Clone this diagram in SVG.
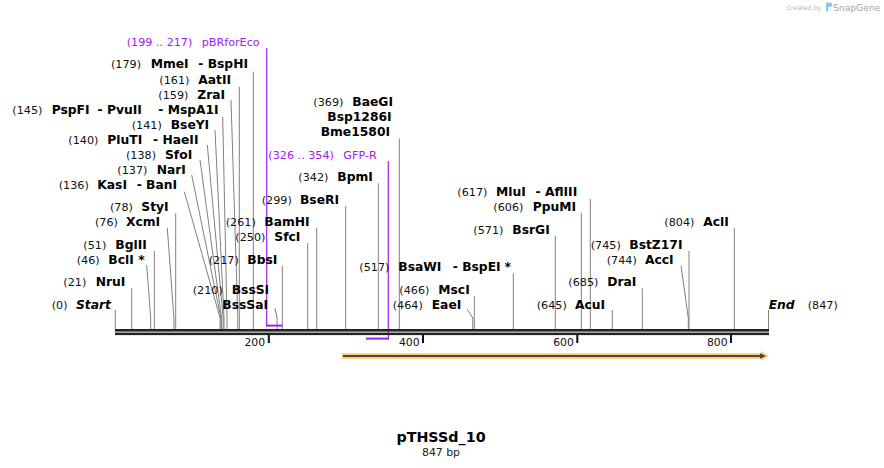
<svg xmlns="http://www.w3.org/2000/svg" width="884" height="468" viewBox="0 0 884 468">
<style>
text{font-family:"DejaVu Sans","Verdana",sans-serif;}
.n{font-size:11.2px;fill:#111;}
.b{font-size:12.3px;font-weight:bold;fill:#000;}
.bi{font-size:12.3px;font-weight:bold;font-style:italic;fill:#000;}
.p{font-size:11.2px;fill:#a020f0;}
.t{font-size:10.8px;fill:#111;text-anchor:end;}
.cut{stroke:#808080;stroke-width:1;fill:none;}
.pv{stroke:#a020f0;stroke-width:1.2;fill:none;}
.ph{stroke:#a020f0;stroke-width:2;fill:none;}
</style>
<rect width="884" height="468" fill="#fff"/>

<g id="watermark">
<text x="786.7" y="10" style="font-size:6.3px;fill:#b4b4b4">Created by</text>
<path d="M826,2.5 h4 a2.3,2.3 0 0 1 0,4.6 h-1.6 v4.2 h-2.4 z" fill="#8ec5ee"/>
<text x="833" y="10.5" style="font-size:9.2px;fill:#a6a6a6">SnapGene</text>
</g>

<g id="connectors">
<!-- vertical cut lines -->
<line class="cut" x1="115.3" y1="310" x2="115.3" y2="329"/>
<line class="cut" x1="131.7" y1="288.3" x2="131.7" y2="329"/>
<line class="cut" x1="154.3" y1="251" x2="154.3" y2="329"/>
<line class="cut" x1="175.7" y1="213.3" x2="175.7" y2="329"/>
<line class="cut" x1="239.3" y1="86.7" x2="239.3" y2="329"/>
<line class="cut" x1="253.3" y1="71.7" x2="253.3" y2="329"/>
<line class="cut" x1="282.3" y1="266" x2="282.3" y2="329"/>
<line class="cut" x1="307.7" y1="243.3" x2="307.7" y2="329"/>
<line class="cut" x1="316.7" y1="227.7" x2="316.7" y2="329"/>
<line class="cut" x1="345.7" y1="206" x2="345.7" y2="329"/>
<line class="cut" x1="378.3" y1="183.3" x2="378.3" y2="329"/>
<line class="cut" x1="399.3" y1="138.3" x2="399.3" y2="329"/>
<line class="cut" x1="474.3" y1="296" x2="474.3" y2="329"/>
<line class="cut" x1="513.3" y1="273.3" x2="513.3" y2="329"/>
<line class="cut" x1="555.3" y1="235.7" x2="555.3" y2="329"/>
<line class="cut" x1="581.3" y1="212.7" x2="581.3" y2="329"/>
<line class="cut" x1="590.3" y1="199" x2="590.3" y2="329"/>
<line class="cut" x1="612.3" y1="310" x2="612.3" y2="329"/>
<line class="cut" x1="642.3" y1="288.3" x2="642.3" y2="329"/>
<line class="cut" x1="689" y1="250.7" x2="689" y2="329"/>
<line class="cut" x1="734.3" y1="228.3" x2="734.3" y2="329"/>
<line class="cut" x1="768.5" y1="310" x2="768.5" y2="329"/>
<!-- slanted cut lines -->
<polyline class="cut" points="231,100 237.8,318 237.8,329"/>
<polyline class="cut" points="222.7,116.7 227,318 227,329"/>
<polyline class="cut" points="215,130 224,318 224,329"/>
<polyline class="cut" points="207.3,145 223.2,318 223.2,329"/>
<polyline class="cut" points="200,160 221.6,318 221.6,329"/>
<polyline class="cut" points="191.7,175 220.9,318 220.9,329"/>
<polyline class="cut" points="184.3,191.7 220.1,318 220.1,329"/>
<polyline class="cut" points="167.3,228 173.9,318 173.9,329"/>
<polyline class="cut" points="146.7,265 150.7,318 150.7,329"/>
<polyline class="cut" points="275,308.3 277.1,318 277.1,329"/>
<polyline class="cut" points="467.3,309.3 472.8,318 472.8,329"/>
<polyline class="cut" points="681,265.7 688.3,318 688.3,329"/>
<!-- primers -->
<line class="pv" x1="266.7" y1="48.3" x2="266.7" y2="326.5"/>
<line class="ph" x1="266.1" y1="325.6" x2="282.3" y2="325.6"/>
<line class="pv" x1="388.3" y1="161" x2="388.3" y2="339.5"/>
<line class="ph" x1="366" y1="338.6" x2="388.9" y2="338.6"/>
</g>

<g id="sequence">
<rect x="115" y="329" width="654" height="2.6" fill="#222"/>
<rect x="115" y="332.6" width="654" height="2.5" fill="#222"/>
<rect x="267.8" y="335" width="2" height="8" fill="#111"/>
<rect x="422" y="335" width="2" height="8" fill="#111"/>
<rect x="576.3" y="335" width="2" height="8" fill="#111"/>
<rect x="730" y="335" width="2" height="8" fill="#111"/>
<text class="t" x="265" y="345.7">200</text>
<text class="t" x="419.5" y="345.7">400</text>
<text class="t" x="573.8" y="345.7">600</text>
<text class="t" x="727.5" y="345.7">800</text>
</g>

<g id="feature">
<polygon points="342,353.3 761,353.3 761,351 768.5,356 761,361 761,358.7 342,358.7" fill="#f9cb72"/>
<rect x="343" y="355" width="419" height="2" fill="#52473d"/>
<polygon points="760,353.2 766,356 760,358.8" fill="#52473d"/>
</g>

<g id="primer-pBRforEco"><text class="p" x="126.7" y="46">(199 .. 217)</text><text class="p" x="201.7" y="46">pBRforEco</text></g>
<g id="primer-GFP-R"><text class="p" x="268.3" y="158.5">(326 .. 354)</text><text class="p" x="343.3" y="158.5">GFP-R</text></g>

<g id="e179"><text class="n" x="111" y="68.3">(179)</text><text class="b" x="150.7" y="68.3">MmeI</text><text class="b" x="198.3" y="68.3">- BspHI</text></g>
<g id="e161"><text class="n" x="159.3" y="84.3">(161)</text><text class="b" x="198.3" y="84.3">AatII</text></g>
<g id="e159"><text class="n" x="158.3" y="98.5">(159)</text><text class="b" x="197.3" y="98.5">ZraI</text></g>
<g id="e145"><text class="n" x="12.3" y="114">(145)</text><text class="b" x="51.7" y="114">PspFI</text><text class="b" x="97.5" y="114">- PvuII</text><text class="b" x="158.3" y="114">- MspA1I</text></g>
<g id="e141"><text class="n" x="131.7" y="129">(141)</text><text class="b" x="170.7" y="129">BseYI</text></g>
<g id="e140"><text class="n" x="68.3" y="143.5">(140)</text><text class="b" x="107.3" y="143.5">PluTI</text><text class="b" x="153" y="143.5">- HaeII</text></g>
<g id="e138"><text class="n" x="126" y="158.7">(138)</text><text class="b" x="165" y="158.7">SfoI</text></g>
<g id="e137"><text class="n" x="117.3" y="173.5">(137)</text><text class="b" x="156.7" y="173.5">NarI</text></g>
<g id="e136"><text class="n" x="58.7" y="189">(136)</text><text class="b" x="97.3" y="189">KasI</text><text class="b" x="136.7" y="189">- BanI</text></g>
<g id="e78"><text class="n" x="110" y="210.7">(78)</text><text class="b" x="141.3" y="210.7">StyI</text></g>
<g id="e76"><text class="n" x="95" y="226">(76)</text><text class="b" x="126" y="226">XcmI</text></g>
<g id="e51"><text class="n" x="83.3" y="249">(51)</text><text class="b" x="115.3" y="249">BglII</text></g>
<g id="e46"><text class="n" x="76.7" y="264">(46)</text><text class="b" x="108.3" y="264">BclI</text><text class="b" x="138.3" y="264">*</text></g>
<g id="e21"><text class="n" x="63.3" y="286">(21)</text><text class="b" x="95.7" y="286">NruI</text></g>
<g id="start"><text class="n" x="51.7" y="308.7">(0)</text><text class="bi" x="76" y="308.7">Start</text></g>
<g id="e261"><text class="n" x="225.7" y="226">(261)</text><text class="b" x="264.3" y="226">BamHI</text></g>
<g id="e250"><text class="n" x="235.3" y="241">(250)</text><text class="b" x="274.3" y="241">SfcI</text></g>
<g id="e217"><text class="n" x="208.7" y="264">(217)</text><text class="b" x="247.3" y="264">BbsI</text></g>
<g id="e210"><text class="n" x="192.7" y="294">(210)</text><text class="b" x="231.7" y="294">BssSI</text><text class="b" x="222.3" y="308.5">BssSaI</text></g>
<g id="e369"><text class="n" x="313.3" y="105.7">(369)</text><text class="b" x="352.3" y="105.7">BaeGI</text><text class="b" x="327.3" y="120.7">Bsp1286I</text><text class="b" x="320.7" y="135.7">Bme1580I</text></g>
<g id="e342"><text class="n" x="298.3" y="181">(342)</text><text class="b" x="337.3" y="181">BpmI</text></g>
<g id="e299"><text class="n" x="261.7" y="203.7">(299)</text><text class="b" x="300" y="203.7">BseRI</text></g>
<g id="e517"><text class="n" x="359.3" y="270.5">(517)</text><text class="b" x="398.3" y="270.5">BsaWI</text><text class="b" x="452.8" y="270.5">- BspEI</text><text class="b" x="504.5" y="270.5">*</text></g>
<g id="e466"><text class="n" x="399.3" y="294">(466)</text><text class="b" x="438.3" y="294">MscI</text></g>
<g id="e464"><text class="n" x="392.7" y="309">(464)</text><text class="b" x="431.7" y="309">EaeI</text></g>
<g id="e617"><text class="n" x="457.3" y="196">(617)</text><text class="b" x="496" y="196">MluI</text><text class="b" x="535.5" y="196">- AflIII</text></g>
<g id="e606"><text class="n" x="493.3" y="211">(606)</text><text class="b" x="532.7" y="211">PpuMI</text></g>
<g id="e571"><text class="n" x="473.3" y="234">(571)</text><text class="b" x="512.3" y="234">BsrGI</text></g>
<g id="e804"><text class="n" x="664.3" y="226">(804)</text><text class="b" x="703.3" y="226">AclI</text></g>
<g id="e745"><text class="n" x="590.7" y="249">(745)</text><text class="b" x="629.3" y="249">BstZ17I</text></g>
<g id="e744"><text class="n" x="606.7" y="264">(744)</text><text class="b" x="645" y="264">AccI</text></g>
<g id="e685"><text class="n" x="568.3" y="286">(685)</text><text class="b" x="607.3" y="286">DraI</text></g>
<g id="e645"><text class="n" x="536.7" y="309">(645)</text><text class="b" x="575" y="309">AcuI</text></g>
<g id="end"><text class="bi" x="768.7" y="309">End</text><text class="n" x="807.7" y="309">(847)</text></g>

<g id="title">
<text x="441" y="441.7" text-anchor="middle" style="font-size:14.3px;font-weight:bold;fill:#000">pTHSSd_10</text>
<text x="441" y="455.5" text-anchor="middle" style="font-size:10.9px;fill:#222">847 bp</text>
</g>
</svg>
